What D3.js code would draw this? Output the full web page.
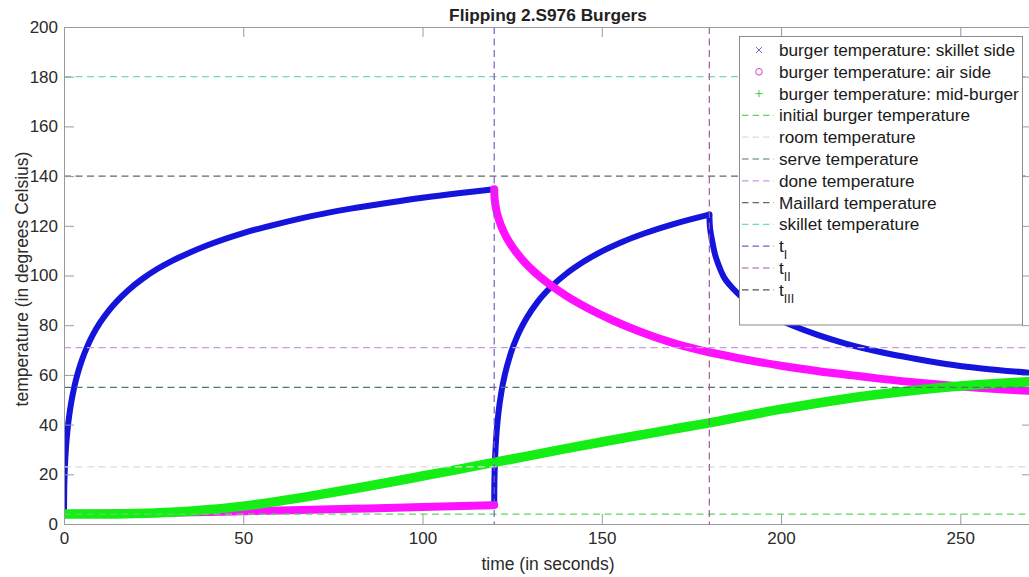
<!DOCTYPE html>
<html>
<head>
<meta charset="utf-8">
<script src="https://cdn.jsdelivr.net/npm/d3@7/dist/d3.min.js"></script>
<style>
  html, body { margin: 0; padding: 0; background: #fff; }
  svg { display: block; font-family: "Liberation Sans", Arial, Helvetica, sans-serif; }
</style>
</head>
<body>
<svg id="chart" width="1029" height="577"></svg>
<script>
// ---- data: burger surface / centre temperatures (time in s, temperature in °C) ----
// skillet-side surface, split at the flip (t_I) and removal (t_II)
const skilletSidePhase1 = [
  [0, 4], [0.05, 12.9], [0.15, 18.9], [0.3, 24.4], [0.6, 31.6], [1, 38.1], [1.5, 44.1],
  [2, 48.8], [3, 56], [4, 61.5], [5, 66], [6.5, 71.5], [8, 76], [10, 80.9], [12.5, 85.9],
  [15, 90], [18, 94.2], [22, 98.8], [26, 102.6], [30, 105.8], [35, 109.2], [40, 112.2],
  [50, 117.1], [60, 120.9], [70, 124.2], [80, 126.9], [90, 129.2], [100, 131.3],
  [110, 133.1], [120, 134.7]
];
const skilletSidePhase2 = [
  [120, 7.6], [120.02, 13.5], [120.08, 19], [120.2, 25], [120.4, 31.2], [120.7, 37.6],
  [121.2, 45], [122, 53.1], [123, 60.3], [124.5, 68.2], [126.5, 75.8], [129, 82.8],
  [132, 89.2], [136, 95.6], [140, 100.6], [145, 105.6], [150, 109.7], [156, 113.7],
  [162, 117], [170, 120.7], [180, 124.5]
];
const skilletSidePhase3 = [
  [180, 124.5], [180.1, 121], [180.3, 118], [180.7, 114.7], [181.5, 109], [182.5, 104.5],
  [184, 99.5], [185.8, 96], [188.5, 92], [192, 88], [196, 84.5], [202.5, 80.3],
  [210, 76.2], [218, 72.6], [228, 69.1], [237, 66.6], [246, 64.4], [256, 62.6], [270, 60.8]
];
// air-side surface
const airSidePhase1 = [
  [0, 4], [20, 4.3], [40, 4.8], [60, 5.4], [80, 6.1], [100, 6.8], [120, 7.6]
];
const airSidePhase2 = [
  [120, 134.7], [120.05, 132.3], [120.2, 129.8], [120.5, 127], [121, 123.9], [122, 119.7],
  [123.5, 115.1], [125.5, 110.6], [128, 106.1], [131, 101.7], [135, 96.9], [140, 91.9],
  [146, 86.9], [153, 82], [160, 77.8], [170, 72.8], [180, 69.1]
];
const airSidePhase3 = [
  [180, 69.1], [190, 66.2], [200, 63.7], [210, 61.6], [220, 59.8], [228, 58.4],
  [240, 56.6], [252, 55.1], [260, 54.3], [270, 53.5]
];
// burger centre
const midBurger = [
  [0, 4], [10, 4], [20, 4.2], [30, 4.7], [40, 5.7], [50, 7.2], [60, 9.2], [70, 11.5],
  [80, 14], [90, 16.6], [100, 19.3], [110, 22], [120, 24.8], [130, 27.5], [140, 30.3],
  [150, 33], [160, 35.6], [170, 38.2], [180, 40.7], [190, 43.5], [200, 46.2],
  [210, 48.6], [220, 50.8], [230, 52.6], [240, 54.2], [250, 55.5], [260, 56.5], [270, 57.3]
];

// reference temperatures (°C) and event times (s)
const refTempNames  = ["initial burger temperature", "room temperature", "serve temperature",
                       "done temperature", "Maillard temperature", "skillet temperature"];
const refTempValues = [4, 23, 55, 71, 140, 180];
const refTempColors = ["#5fd85f", "#dcdcdc", "#4f7772", "#c99be0", "#666666", "#6fd9c4"];
const eventSubscripts = ["I", "II", "III"];
const eventTimes      = [120, 180, 270];
const eventColors     = ["#7f5bc0", "#a05a9a", "#555555"];

const xTicks = [0, 50, 100, 150, 200, 250];
const yTicks = [0, 20, 40, 60, 80, 100, 120, 140, 160, 180, 200];

// ---- layout ----
const svg = d3.select("#chart");
const plotLeft = 64, plotRight = 1032, plotTop = 27, plotBottom = 524;
const x = d3.scaleLinear().domain([0, 270]).range([plotLeft, plotRight]);
const y = d3.scaleLinear().domain([0, 200]).range([plotBottom, plotTop]);

svg.append("defs").append("clipPath").attr("id", "plotClip")
  .append("rect").attr("x", plotLeft).attr("y", plotTop)
  .attr("width", plotRight - plotLeft).attr("height", plotBottom - plotTop);

const plot = svg.append("g").attr("clip-path", "url(#plotClip)");

const line = d3.line().x(d => x(d[0])).y(d => y(d[1])).curve(d3.curveMonotoneX);

const seriesStyle = [
  { segs: [skilletSidePhase1, skilletSidePhase2, skilletSidePhase3], color: "#1414dc", width: 6 },
  { segs: [airSidePhase1, airSidePhase2, airSidePhase3], color: "#ff10ff", width: 8 },
  { segs: [midBurger], color: "#14ee14", width: 9.5 }
];
seriesStyle.forEach(s => {
  s.segs.forEach(seg => {
    plot.append("path").attr("d", line(seg))
      .attr("fill", "none").attr("stroke", s.color)
      .attr("stroke-width", s.width).attr("stroke-linecap", "round")
      .attr("stroke-linejoin", "round");
  });
});

// dashed reference lines
const dash = "7,4.5";
refTempValues.forEach((v, i) => {
  plot.append("line").attr("x1", plotLeft).attr("x2", plotRight)
    .attr("y1", y(v)).attr("y2", y(v))
    .attr("stroke", refTempColors[i]).attr("stroke-width", 1.2)
    .attr("stroke-dasharray", dash);
});
eventTimes.forEach((t, i) => {
  plot.append("line").attr("x1", x(t)).attr("x2", x(t))
    .attr("y1", plotTop).attr("y2", plotBottom)
    .attr("stroke", eventColors[i]).attr("stroke-width", 1.2)
    .attr("stroke-dasharray", dash);
});

// ---- axes (box with inward ticks) ----
const axisColor = "#9a9a9a", textColor = "#2b2b2b";
function styleAxis(g) {
  g.selectAll("path.domain").attr("stroke", axisColor).attr("stroke-width", 1);
  g.selectAll(".tick line").attr("stroke", axisColor).attr("stroke-width", 1);
  g.selectAll(".tick text").attr("fill", textColor)
    .style("font-family", '"Liberation Sans", Arial, sans-serif').style("font-size", "17px");
}
svg.append("g").attr("transform", `translate(0,${plotBottom})`)
  .call(d3.axisBottom(x).tickValues(xTicks).tickSizeInner(-10).tickSizeOuter(0).tickPadding(8))
  .call(styleAxis);
svg.append("g").attr("transform", `translate(${plotLeft},0)`)
  .call(d3.axisLeft(y).tickValues(yTicks).tickSizeInner(-10).tickSizeOuter(0).tickPadding(6))
  .call(styleAxis);
svg.append("g").attr("transform", `translate(0,${plotTop})`)
  .call(d3.axisTop(x).tickValues(xTicks).tickSizeInner(-10).tickSizeOuter(0).tickFormat(""))
  .call(styleAxis);
svg.append("g").attr("transform", `translate(${plotRight},0)`)
  .call(d3.axisRight(y).tickValues(yTicks).tickSizeInner(-10).tickSizeOuter(0).tickFormat(""))
  .call(styleAxis);

// ---- titles ----
svg.append("text").attr("x", (plotLeft + plotRight) / 2).attr("y", 20.5)
  .attr("text-anchor", "middle").attr("font-weight", "bold")
  .attr("font-size", "17.3px").attr("fill", "#222")
  .text("Flipping 2.S976 Burgers");
svg.append("text").attr("x", 548).attr("y", 570)
  .attr("text-anchor", "middle").attr("font-size", "17.5px").attr("fill", textColor)
  .text("time (in seconds)");
svg.append("text").attr("transform", "translate(22,279) rotate(-90)")
  .attr("text-anchor", "middle").attr("dominant-baseline", "central")
  .attr("font-size", "17.5px").attr("fill", textColor)
  .text("temperature (in degrees Celsius)");

// ---- legend ----
const legend = svg.append("g");
legend.append("rect").attr("x", 739.5).attr("y", 36.5).attr("width", 283).attr("height", 288.5)
  .attr("fill", "#fff").attr("stroke", "#8c8c8c").attr("stroke-width", 1);

const rowY = i => 50 + i * 21.8;
const legendEntries = [
  { kind: "x", color: "#6a6ad8", label: "burger temperature: skillet side" },
  { kind: "o", color: "#d040d0", label: "burger temperature: air side" },
  { kind: "+", color: "#40d040", label: "burger temperature: mid-burger" }
];
refTempNames.forEach((n, i) => legendEntries.push({ kind: "line", color: refTempColors[i], label: n }));
eventSubscripts.forEach((s, i) => legendEntries.push({ kind: "line", color: eventColors[i], sub: s }));

legendEntries.forEach((e, i) => {
  const cy = rowY(i), cx = 759;
  if (e.kind === "x") {
    legend.append("path").attr("d", `M${cx - 3},${cy - 3}L${cx + 3},${cy + 3}M${cx - 3},${cy + 3}L${cx + 3},${cy - 3}`)
      .attr("stroke", e.color).attr("stroke-width", 1);
  } else if (e.kind === "o") {
    legend.append("circle").attr("cx", cx).attr("cy", cy).attr("r", 3.3)
      .attr("fill", "none").attr("stroke", e.color).attr("stroke-width", 1);
  } else if (e.kind === "+") {
    legend.append("path").attr("d", `M${cx - 3.5},${cy}L${cx + 3.5},${cy}M${cx},${cy - 3.5}L${cx},${cy + 3.5}`)
      .attr("stroke", e.color).attr("stroke-width", 1);
  } else {
    legend.append("line").attr("x1", 742).attr("x2", 774).attr("y1", cy).attr("y2", cy)
      .attr("stroke", e.color).attr("stroke-width", 1.2).attr("stroke-dasharray", "6.5,4");
  }
  const txt = legend.append("text").attr("x", 779).attr("y", cy)
    .attr("dominant-baseline", "central").attr("font-size", "17.2px").attr("fill", "#1a1a1a");
  if (e.sub) {
    txt.append("tspan").text("t");
    txt.append("tspan").attr("dy", 9).attr("font-size", "12.5px").text(e.sub);
  } else {
    txt.text(e.label);
  }
});
</script>
</body>
</html>
